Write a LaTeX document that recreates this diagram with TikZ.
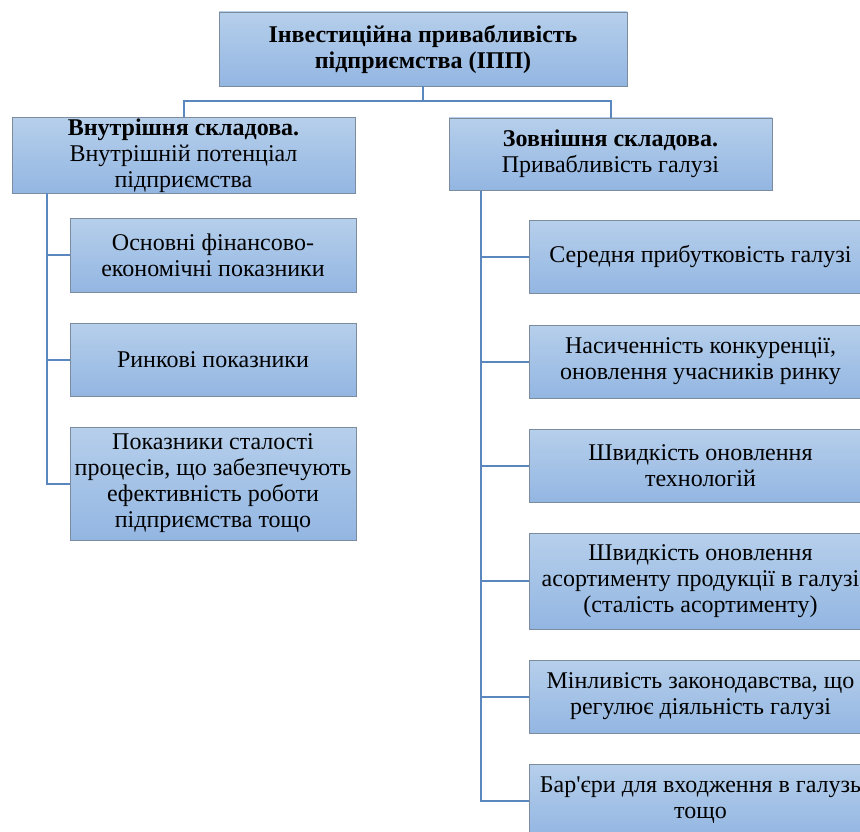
\documentclass[tikz,border=0pt]{standalone}
\usepackage{fontspec}
\setmainfont{Liberation Serif}
\newfontfamily\plainserif{Liberation Serif}
\usepackage{tikz}
\usetikzlibrary{calc}
\definecolor{boxtop}{HTML}{B6CFEB}
\definecolor{boxbot}{HTML}{93B6E2}
\definecolor{boxline}{HTML}{7D8B9E}
\definecolor{linkblue}{HTML}{5B87BF}
\tikzset{
    block/.style={draw=boxline, line width=0.8pt, top color=boxtop, bottom color=boxbot,
        align=center, inner sep=1pt, font=\fontsize{24}{26}\selectfont},
    link/.style={draw=linkblue, line width=2pt}}

\begin{document}
\begin{tikzpicture}[x=1pt, y=-1pt]
        \useasboundingbox (0,0) rectangle (860,832);
        \clip (0,0) rectangle (860,832);

                    \node[block, minimum width=408pt, minimum height=74pt] (top) at (423,49) {\textbf{Інвестиційна привабливість}\\\textbf{підприємства (ІПП)}};
                    \node[block, minimum width=343pt, minimum height=75pt] (inner) at (183.5,155.5) {\textbf{Внутрішня складова.}\\Внутрішній потенціал\\підприємства};
                    \node[block, minimum width=323pt, minimum height=72pt] (outer) at (610.5,154) {\textbf{Зовнішня складова.}\\Привабливість галузі};

                    % internal side
                    \node[block, minimum width=286pt, minimum height=74pt] (l1) at (213,255) {Основні фінансово-\\економічні показники};
                    \node[block, minimum width=286pt, minimum height=73pt] (l2) at (213,359.5) {Ринкові показники};
                    \node[block, minimum width=286pt, minimum height=113pt] (l3) at (213,483.5) {Показники сталості\\процесів, що забезпечують\\ефективність роботи\\підприємства тощо};

                    % external side
                    \node[block, minimum width=343pt, minimum height=73pt] (r1) at (700.5,256.5) {Середня прибутковість галузі};
                    \node[block, minimum width=343pt, minimum height=73pt] (r2) at (700.5,361.5) {Насиченність конкуренції,\\оновлення учасників ринку};
                    \node[block, minimum width=343pt, minimum height=73pt] (r3) at (700.5,465.5) {Швидкість оновлення\\технологій};
                    \node[block, minimum width=343pt, minimum height=96pt] (r4) at (700.5,581) {Швидкість оновлення\\асортименту продукції в галузі\\(сталість асортименту)};
                    \node[block, minimum width=343pt, minimum height=73pt] (r5) at (700.5,696.5) {Мінливість законодавства, що\\регулює діяльність галузі};
                    \node[block, minimum width=343pt, minimum height=73pt] (r6) at (700.5,800.5) {Бар{\plainserif '}єри для входження в галузь\\тощо};

                    \coordinate (split) at (top.south |- 0,101);
                    \coordinate (sl) at (47,193);
                    \coordinate (sr) at (481,191);

                    \draw[link] (top.south) -- (split);
                    \draw[link] (split) -| (inner.north);
                    \draw[link] (split) -| (outer.north);

                    \draw[link] (sl) |- (l3.west);
                    \foreach \n in {l1,l2}
                        \draw[link] (sl |- \n.west) -- (\n.west);

                    \draw[link] (sr) |- (r6.west);
                    \foreach \n in {r1,r2,r3,r4,r5}
                        \draw[link] (sr |- \n.west) -- (\n.west);

                \end{tikzpicture}
\end{document}
